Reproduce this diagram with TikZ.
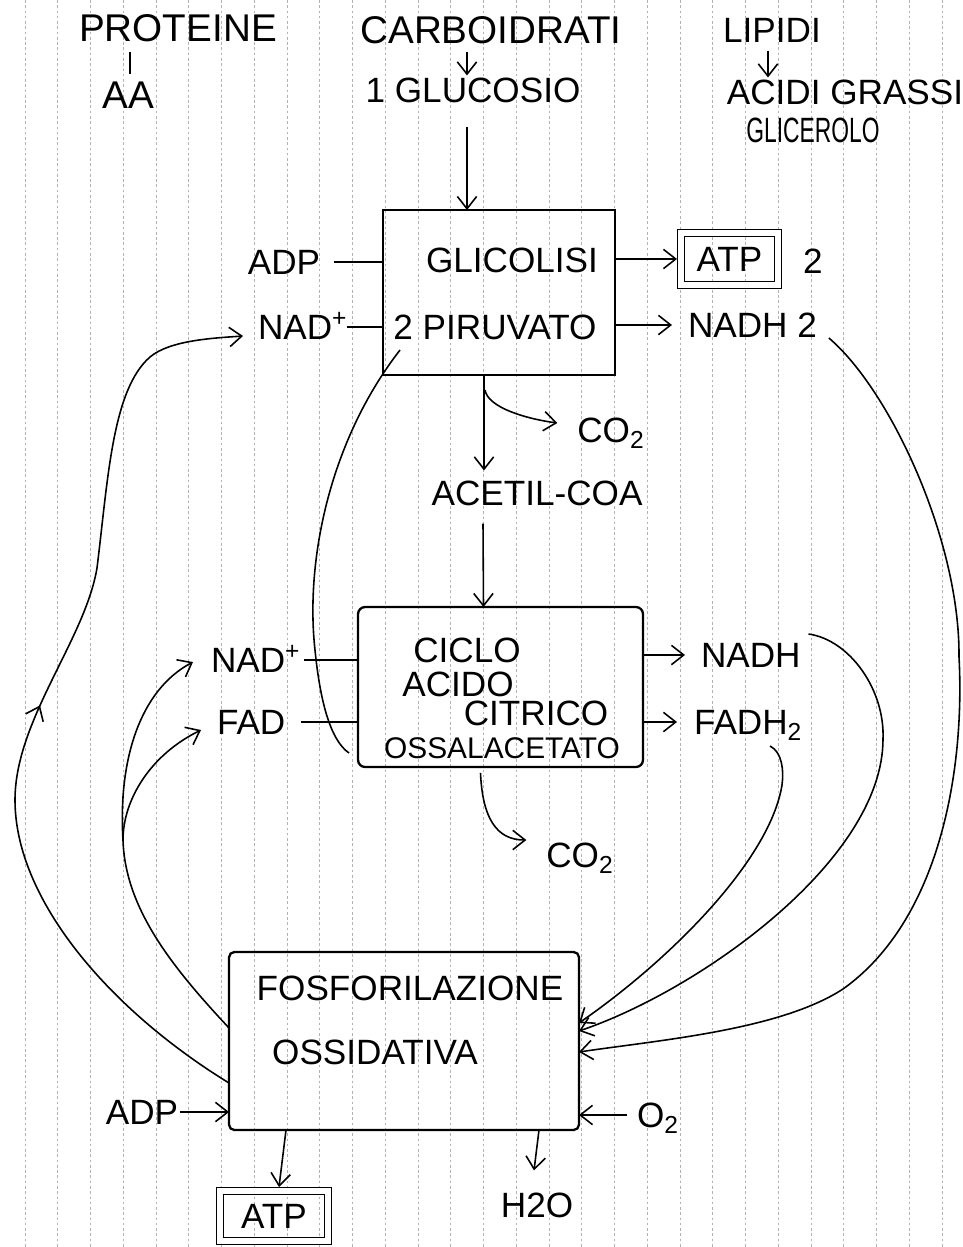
\documentclass[tikz,border=0pt]{standalone}
\usepackage{fontspec}
\setmainfont{Liberation Sans}
\usepackage{graphicx}
\usetikzlibrary{arrows.meta,calc,decorations.markings}
\newcommand{\fsz}[1]{\fontsize{#1}{#1}\selectfont}
\begin{document}
\begin{tikzpicture}[x=0.02cm,y=-0.02cm,
  lblM/.style={inner sep=0pt,outer sep=0pt,text depth=0pt,text height=14.3pt,font=\fsz{20}},
  lblB/.style={inner sep=0pt,outer sep=0pt,text depth=0pt,text height=15.75pt,font=\fsz{22}},
  lblS/.style={inner sep=0pt,outer sep=0pt,text depth=0pt,text height=12.2pt,font=\fsz{17}},
  procbox/.style={draw,line width=1.3pt,inner sep=0pt,outer sep=0pt},
  dbox/.style={draw,double,double distance=3pt,line width=0.8pt,inner sep=0pt,outer sep=0pt,font=\fsz{20}},
  tipA/.tip={Straight Barb[length=7pt,width=11pt,line width=0.9pt]},
  arr/.style={line width=0.9pt,-tipA},
  ln/.style={line width=0.9pt},
  midarr/.style={postaction={decorate,decoration={markings,mark=at position 0.5 with {\arrow{tipA}}}}},
  papergrid/.style={black!30,line width=0.35pt,dash pattern=on 1.5pt off 1.5pt}]
\useasboundingbox (0,0) rectangle (963,1247);
\fill[white] (0,0) rectangle (963,1247);
\foreach \k in {0,...,28} \draw[papergrid] ({25+32.75*\k},0) -- ({25+32.75*\k},1247);

% top row
\node[lblB] (prot) at (178,28) {PROTEINE};
\node[lblB] (aa) at (128,95) {AA};
\draw[ln] ([shift={(2,-7)}]aa.north) -- ([shift={(2,-29)}]aa.north);
\node[lblB] (carb) at (491,30) {CARBOIDRATI};
\node[lblM] (gluc) at (473,90) {1 GLUCOSIO};
\draw[arr] ([shift={(-24,8)}]carb.south) -- ([shift={(-6,-2)}]gluc.north);
\node[lblM] (lip) at (772,30) {LIPIDI};
\node[lblM] (acidi) at (845,92) {ACIDI GRASSI};
\node[lblM] (glic) at (813,130) {\scalebox{0.65}[1]{GLICEROLO}};
\draw[arr] ([shift={(-4,8)}]lip.south) -- ([shift={(-77,-2)}]acidi.north);

% glicolisi
\node[procbox,minimum width=4.64cm,minimum height=3.3cm] (gbox) at (499,292.5) {};
\node[lblM] (glt) at (512,260) {GLICOLISI};
\node[lblM] (pir) at (495,327) {2 PIRUVATO};
\draw[arr] ([shift={(-6,24)}]gluc.south) -- ([shift={(-32,0)}]gbox.north);
\node[lblM] (adp1) at (284,262) {ADP};
\draw[ln] ([shift={(14,0)}]adp1.east) -- (adp1.east -| gbox.west);
\node[lblM,anchor=west] (nad1) at (258,327) {NAD\textsuperscript{+}};
\draw[ln] (nad1.east) -- (nad1.east -| gbox.west);
\node[dbox,minimum width=1.94cm,minimum height=1.04cm] (atp1) at (729.5,259) {ATP};
\draw[arr] (atp1.west -| gbox.east) -- ([shift={(-4,0)}]atp1.west);
\node[lblM] (two1) at (813,261) {2};
\node[lblM,anchor=west] (nadh1) at (688,325) {NADH 2};
\draw[arr] (nadh1.west -| gbox.east) -- ([shift={(-16,0)}]nadh1.west);

% acetil
\node[lblM] (co2a) at (611,430) {CO\textsubscript{2}};
\node[lblM] (acet) at (537,493) {ACETIL-COA};
\draw[arr] ([shift={(-15,0)}]gbox.south) -- ([shift={(-53,-10)}]acet.north);
\draw[arr] ([shift={(-14,15)}]gbox.south) .. controls +(3,18) and +(-30,-4) .. ([shift={(-20,-7)}]co2a.west);

% ciclo
\node[procbox,rounded corners=4pt,minimum width=5.7cm,minimum height=3.2cm] (cbox) at (500.5,687) {};
\draw[arr] ([shift={(-54,18)}]acet.south) -- ([shift={(-17,0)}]cbox.north);
\node[lblM] (cic) at (467,650) {CICLO};
\node[lblM] (aci) at (458,684) {ACIDO};
\node[lblM] (cit) at (536,713) {CITRICO};
\node[lblS] (oss) at (502,748) {OSSALACETATO};
\node[lblM,anchor=west] (nad2) at (211,660) {NAD\textsuperscript{+}};
\draw[ln] ([shift={(4,0)}]nad2.east) -- (nad2.east -| cbox.west);
\node[lblM,anchor=west] (fad) at (217,722) {FAD};
\draw[ln] ([shift={(16,0)}]fad.east) -- (fad.east -| cbox.west);
\node[lblM,anchor=west] (nadh2) at (701,655) {NADH};
\draw[arr] (nadh2.west -| cbox.east) -- ([shift={(-16,0)}]nadh2.west);
\node[lblM,anchor=west] (fadh) at (694,722) {FADH\textsubscript{2}};
\draw[arr] (fadh.west -| cbox.east) -- ([shift={(-17,0)}]fadh.west);
\node[lblM] (co2b) at (580,855) {CO\textsubscript{2}};
\draw[arr] ([shift={(-20,6)}]cbox.south) .. controls +(2,45) and +(-30,0) .. ([shift={(-20,-15)}]co2b.west);

% fosforilazione
\node[procbox,rounded corners=3pt,minimum width=7cm,minimum height=3.56cm] (fbox) at (404,1041) {};
\node[lblM] (fos) at (410,988) {FOSFORILAZIONE};
\node[lblM] (ossi) at (375,1052) {OSSIDATIVA};
\node[lblM] (adp2) at (142,1112) {ADP};
\draw[arr] ([shift={(2,0)}]adp2.east) -- (adp2.east -| fbox.west);
\node[lblM,anchor=west] (o2) at (637,1115) {O\textsubscript{2}};
\draw[arr] ([shift={(-10,0)}]o2.west) -- (o2.west -| fbox.east);
\node[dbox,minimum width=2.16cm,minimum height=1.0cm] (atp2) at (274,1216) {ATP};
\draw[arr] ([shift={(-118,0)}]fbox.south) -- ([shift={(5,-4)}]atp2.north);
\node[lblM] (h2o) at (537,1205) {H2O};
\draw[arr] ([shift={(135,0)}]fbox.south) -- ([shift={(-3,-22)}]h2o.north);

% long connectors
\draw[ln] ([shift={(17,57.5)}]gbox.west) .. controls (330,440) and (305,560) .. (315,650) .. controls (320,700) and (330,740) .. ([shift={(-9,66)}]cbox.west);
\draw[arr] ([shift={(12,13)}]nadh1.east) .. controls (890,390) and (960,540) .. (959,657) .. controls (965,770) and (940,920) .. (843,989) .. controls (780,1030) and (660,1040) .. ([shift={(0,11)}]fbox.east);
\draw[arr] ([shift={(8,-21)}]nadh2.east) .. controls (850,640) and (885,690) .. (883,739) .. controls (883,860) and (700,990) .. ([shift={(0,-10)}]fbox.east);
\draw[arr] ([shift={(76,24)}]fadh.west) .. controls (782,752) and (784,770) .. (782,785) .. controls (770,860) and (670,960) .. ([shift={(0,-18)}]fbox.east);
\draw[arr,midarr] ([shift={(0,42)}]fbox.west) .. controls (110,1010) and (15,900) .. (15,800) .. controls (15,720) and (85,640) .. (97,568) .. controls (108,480) and (112,390) .. (150,357) .. controls (170,340) and (215,338) .. ([shift={(-15,9)}]nad1.west);
\coordinate (jn) at (123,840);
\draw[ln] ([shift={(0,-13)}]fbox.west) .. controls (175,970) and (125,910) .. (jn);
\draw[arr] (jn) .. controls (118,760) and (140,690) .. ([shift={(-18,2)}]nad2.west);
\draw[arr] (jn) .. controls (123,800) and (150,755) .. ([shift={(-16,8)}]fad.west);
\end{tikzpicture}
\end{document}
